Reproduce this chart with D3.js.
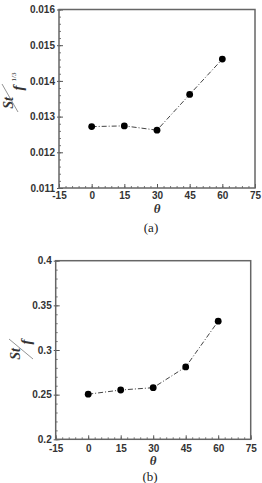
<!DOCTYPE html>
<html>
<head>
<meta charset="utf-8">
<script src="https://cdn.jsdelivr.net/npm/d3@7"></script>
<style>
  body { margin: 0; background: #fff; }
  svg { display: block; }
  .tick text { font-family: 'Liberation Sans', Arial, sans-serif; font-weight: bold; font-size: 10px; fill: #333; }
  .serif { font-family: 'Liberation Serif', 'Times New Roman', serif; }
</style>
</head>
<body>
<svg id="svg" width="262" height="483"></svg>
<script>
// angles (deg)
var theta = [0, 15, 30, 45, 60];
// panel (a): St / f^(1/3)
var stA = [0.01272, 0.01274, 0.01262, 0.01362, 0.01461];
// panel (b): St / f
var stB = [0.2505, 0.2552, 0.2578, 0.2810, 0.3323];
var xTicks = [-15, 0, 15, 30, 45, 60, 75];
var yTicksA = [0.011, 0.012, 0.013, 0.014, 0.015, 0.016];
var yTicksB = [0.2, 0.25, 0.3, 0.35, 0.4];
var yLabelsA = ["0.011", "0.012", "0.013", "0.014", "0.015", "0.016"];
var yLabelsB = ["0.2", "0.25", "0.3", "0.35", "0.4"];

var svg = d3.select("#svg");

function panel(opt) {
  var x = d3.scaleLinear().domain([-15, 75]).range([opt.left, opt.right]);
  var y = d3.scaleLinear().domain(opt.yDomain).range([opt.bottom, opt.top]);
  var g = svg.append("g");

  // minor ticks
  g.append("g")
    .attr("transform", "translate(0," + opt.bottom + ")")
    .call(d3.axisBottom(x).tickValues(d3.range(-15, 75.1, 3)).tickSize(-2).tickFormat(""))
    .call(function (s) { s.select(".domain").remove(); s.selectAll("line").attr("stroke", "#777"); });
  g.append("g")
    .attr("transform", "translate(" + opt.left + ",0)")
    .call(d3.axisLeft(y).tickValues(opt.minor).tickSize(-2).tickFormat(""))
    .call(function (s) { s.select(".domain").remove(); s.selectAll("line").attr("stroke", "#777"); });

  // major ticks
  g.append("g")
    .attr("transform", "translate(0," + opt.bottom + ")")
    .call(d3.axisBottom(x).tickValues(xTicks).tickSize(-4).tickPadding(opt.xPad)
      .tickFormat(function (d) { return String(d); }))
    .call(function (s) { s.select(".domain").remove(); s.selectAll("line").attr("stroke", "#555"); });
  g.append("g")
    .attr("transform", "translate(" + opt.left + ",0)")
    .call(d3.axisLeft(y).tickValues(opt.yTicks).tickSize(-4).tickPadding(4)
      .tickFormat(function (d, i) { return opt.yLabels[i]; }))
    .call(function (s) {
      s.select(".domain").remove();
      s.selectAll("line").attr("stroke", "#555").attr("x1", -2);
    });

  // frame
  g.append("rect")
    .attr("x", opt.left).attr("y", opt.top)
    .attr("width", opt.right - opt.left).attr("height", opt.bottom - opt.top)
    .attr("fill", "none").attr("stroke", "#666").attr("stroke-width", 1.5);

  // line + markers
  var line = d3.line().x(function (d, i) { return x(theta[i]); }).y(function (d) { return y(d); });
  g.append("path").datum(opt.values)
    .attr("d", line)
    .attr("fill", "none").attr("stroke", "#444").attr("stroke-width", 1)
    .attr("stroke-dasharray", "5,2,1,2");
  g.selectAll("circle").data(opt.values).enter().append("circle")
    .attr("cx", function (d, i) { return x(theta[i]); })
    .attr("cy", function (d) { return y(d); })
    .attr("r", 3.4).attr("fill", "#000");

  // x title
  g.append("text").attr("class", "serif")
    .attr("x", (opt.left + opt.right) / 2).attr("y", opt.thetaY)
    .attr("text-anchor", "middle")
    .style("font-style", "italic").style("font-weight", "bold").style("font-size", "13px")
    .attr("fill", "#333")
    .text("θ");
  g.append("text").attr("class", "serif")
    .attr("x", opt.capX).attr("y", opt.capY)
    .attr("text-anchor", "middle")
    .style("font-size", "13px").attr("fill", "#222")
    .text(opt.caption);

  // y title: diagonal fraction, rotated
  var lab = opt.label;
  function rtext(px, py, txt, size, italic) {
    return g.append("text").attr("class", "serif")
      .attr("transform", "translate(" + px + "," + py + ") rotate(-90)")
      .attr("text-anchor", "middle").attr("dominant-baseline", "central")
      .style("font-style", italic ? "italic" : "normal")
      .style("font-weight", italic ? "bold" : "normal")
      .style("font-size", size + "px").attr("fill", "#333")
      .text(txt);
  }
  rtext(lab.st[0], lab.st[1], "St", 14, true);
  rtext(lab.f[0], lab.f[1], "f", 15, true);
  if (lab.sup) rtext(lab.sup[0], lab.sup[1], "1/3", 7, false);
  g.append("line")
    .attr("x1", lab.slash[0]).attr("y1", lab.slash[1])
    .attr("x2", lab.slash[2]).attr("y2", lab.slash[3])
    .attr("stroke", "#777").attr("stroke-width", 0.8);
}

panel({
  left: 59, right: 255, top: 9.5, bottom: 188,
  yDomain: [0.011, 0.016], yTicks: yTicksA, yLabels: yLabelsA,
  minor: d3.range(0, 26).map(function (i) { return 0.011 + i * 0.0002; }),
  values: stA, xPad: 3.5, thetaY: 213, capX: 151, capY: 232, caption: "(a)",
  label: { st: [8, 103], f: [18, 88], sup: [14, 77], slash: [2, 84, 18, 112] }
});

panel({
  left: 55.7, right: 250.7, top: 260.7, bottom: 439.3,
  yDomain: [0.2, 0.4], yTicks: yTicksB, yLabels: yLabelsB,
  minor: d3.range(0, 21).map(function (i) { return 0.2 + i * 0.01; }),
  values: stB, xPad: 5.5, thetaY: 465, capX: 150, capY: 481, caption: "(b)",
  label: { st: [15, 354], f: [26, 342], sup: null, slash: [9, 339, 33, 359] }
});
</script>
</body>
</html>
